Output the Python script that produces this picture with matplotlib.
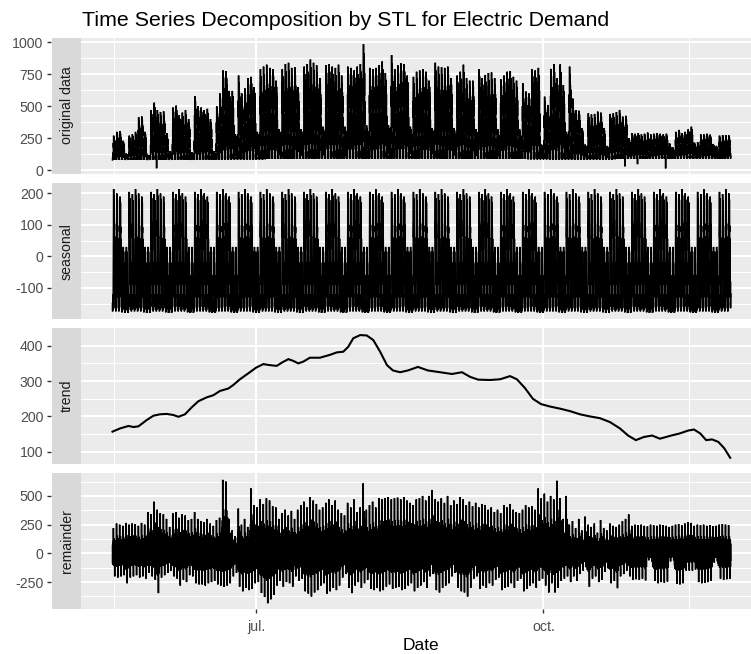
import numpy as np
import pandas as pd
import matplotlib
matplotlib.use("Agg")
import matplotlib.pyplot as plt
import matplotlib.dates as mdates

plt.rcParams['font.family'] = ['Liberation Sans', 'DejaVu Sans']
plt.rcParams['axes.unicode_minus'] = False

# ---------------------------------------------------------------- data
START = "2018-05-16"
N_DAYS = 198

# daily peak demand, one row per week (first row starts Wed 16 May)
daily_peak = [
    270, 300, 305, 230, 130, 270, 280,
    300, 415, 420, 300, 120, 470, 528,
    470, 455, 460, 290, 150, 490, 505,
    430, 450, 470, 400, 140, 580, 500,
    490, 470, 480, 400, 150, 500, 600,
    780, 775, 620, 620, 280, 740, 600,
    640, 720, 730, 650, 300, 790, 810,
    825, 800, 790, 700, 320, 790, 830,
    840, 800, 805, 650, 320, 810, 830,
    865, 840, 820, 720, 340, 820, 830,
    810, 800, 825, 740, 340, 810, 800,
    780, 810, 830, 985, 350, 800, 790,
    800, 820, 850, 760, 350, 900, 790,
    820, 835, 830, 740, 340, 730, 770,
    780, 790, 770, 700, 330, 840, 810,
    805, 800, 810, 720, 330, 740, 770,
    825, 720, 700, 700, 320, 790, 720,
    745, 760, 765, 720, 320, 710, 740,
    770, 775, 730, 700, 320, 680, 615,
    600, 790, 780, 800, 200, 575, 510,
    792, 828, 718, 828, 666, 300, 810,
    560, 470, 465, 330, 200, 445, 435,
    440, 458, 450, 330, 190, 440, 445,
    455, 471, 419, 425, 250, 289, 285,
    290, 280, 285, 294, 280, 285, 290,
    285, 280, 285, 210, 180, 300, 315,
    290, 300, 320, 340, 215, 220, 280,
    280, 285, 278, 205, 190, 270, 275,
    275, 272,
]

# night-time base load for each weekly row
night_load = [80, 80, 80, 80, 82, 85, 85, 88, 88, 90, 90, 90, 90, 90, 90,
              88, 88, 88, 88, 86, 85, 85, 85, 88, 90, 90, 92, 90, 90]

# short outages (day offset, demand at 03:00)
dip_day = [14, 164, 168, 177]
dip_val = [15, 30, 47, 14]

# hourly load shape (0 = base, 1 = daily peak)
load_shape = [0.0, 0.1, 0.02, 0.08, 0.0, 0.3, 0.15, 0.7, 0.5, 1.0, 0.65, 0.85,
              0.6, 0.92, 0.7, 0.8, 0.55, 0.75, 0.3, 0.5, 0.1, 0.25, 0.0, 0.1]

# weekly seasonal component: hourly profile of a working day and of a weekend day
season_workday = [-150, -175, -140, -170, -120, -160, -60, 40, 120, 205, 60, 110,
                  20, 185, 80, 100, -20, 60, -90, -20, -130, -80, -165, -120]
season_weekend = [-160, -178, -150, -175, -140, -170, -110, -60, -100, 15, -60, 30,
                  -40, 15, -80, -20, -110, -60, -140, -100, -168, -130, -180, -150]
# highest seasonal value reached on Monday .. Friday
season_day_peak = [205, 198, 214, 200, 190]

# trend component (day offset, value)
trend_day = [0, 2.4, 5.1, 6.7, 8.3, 11.0, 13.1, 15.2, 17.4, 19.5, 21.1, 23.2, 25.4,
             27.5, 30.2, 32.3, 34.4, 37.1, 38.7, 40.8, 43.5, 46.0, 48.3, 50.4, 52.6,
             54.2, 56.3, 57.9, 59.5, 61.1, 63.2, 66.4, 69.6, 71.8, 73.9, 75.5, 77.1,
             79.3, 81.4, 83.5, 85.7, 87.9, 89.8, 92.1, 94.6, 97.8, 101.0, 104.9,
             108.7, 111.9, 114.5, 117.1, 120.9, 124.1, 127.3, 129.5, 132.1, 134.6,
             137.2, 140.1, 143.3, 146.5, 149.7, 152.9, 156.1, 159.3, 162.5, 165.1,
             167.6, 170.2, 172.8, 175.3, 178.5, 181.7, 184.3, 186.2, 188.2, 190.1,
             192.0, 194.0, 195.9, 197.8]
trend_val = [157, 166, 173, 170, 172, 190, 202, 206, 207, 204, 199, 206, 226,
             243, 254, 260, 272, 279, 289, 305, 322, 338, 348, 345, 343,
             352, 362, 357, 350, 355, 366, 366, 374, 381, 383, 397, 421,
             430, 429, 416, 383, 345, 330, 325, 330, 340, 330, 325,
             320, 325, 312, 304, 303, 305, 314, 305, 280, 250,
             235, 228, 222, 215, 206, 200, 195, 184, 166, 146,
             133, 142, 146, 137, 145, 152, 160, 163, 152, 133,
             135, 128, 110, 83]

# remainder: daily upper and lower extremes
rem_high = [
    220, 260, 250, 240, 265, 250, 260,
    255, 240, 265, 250, 360, 340, 450,
    380, 350, 340, 300, 230, 350, 360,
    310, 340, 330, 290, 300, 360, 300,
    280, 270, 300, 260, 240, 290, 310,
    640, 625, 300, 200, 150, 390, 250,
    300, 230, 566, 420, 400, 470, 430,
    480, 460, 410, 400, 300, 350, 380,
    330, 370, 300, 380, 420, 450, 400,
    490, 460, 430, 380, 400, 440, 470,
    420, 460, 380, 350, 330, 440, 400,
    470, 360, 400, 610, 380, 420, 450,
    400, 480, 470, 480, 490, 470, 480,
    485, 470, 490, 460, 440, 420, 470,
    480, 500, 460, 500, 552, 470, 450,
    480, 440, 500, 420, 460, 430, 490,
    470, 420, 450, 410, 440, 400, 430,
    420, 380, 400, 360, 380, 350, 420,
    400, 430, 380, 360, 350, 380, 420,
    400, 410, 380, 565, 480, 520, 450,
    500, 470, 632, 480, 300, 500, 250,
    280, 220, 300, 200, 320, 250, 230,
    260, 180, 290, 220, 200, 260, 240,
    230, 250, 280, 300, 340, 240, 250,
    245, 250, 240, 235, 250, 245, 240,
    250, 245, 240, 230, 240, 250, 255,
    245, 260, 270, 265, 240, 250, 245,
    250, 240, 245, 235, 240, 250, 255,
    250, 245,
]
rem_low = [
    -200, -210, -200, -190, -260, -210, -200,
    -190, -210, -200, -220, -170, -200, -230,
    -346, -210, -190, -170, -150, -200, -220,
    -280, -230, -250, -190, -200, -260, -270,
    -270, -280, -260, -250, -240, -270, -280,
    -290, -280, -260, -200, -170, -290, -330,
    -300, -320, -310, -260, -250, -345, -380,
    -434, -400, -360, -280, -240, -290, -250,
    -260, -290, -200, -240, -220, -330, -350,
    -375, -340, -320, -280, -260, -350, -330,
    -300, -320, -280, -210, -180, -300, -346,
    -280, -250, -300, -260, -230, -310, -320,
    -300, -330, -320, -290, -270, -310, -300,
    -290, -320, -310, -280, -260, -330, -300,
    -280, -250, -300, -200, -180, -320, -340,
    -300, -280, -260, -200, -170, -300, -330,
    -340, -375, -300, -220, -200, -310, -280,
    -300, -260, -280, -230, -210, -320, -300,
    -290, -260, -300, -240, -220, -330, -310,
    -280, -260, -300, -240, -220, -280, -340,
    -260, -340, -300, -240, -220, -200, -250,
    -200, -240, -180, -150, -120, -290, -220,
    -200, -250, -230, -160, -130, -260, -240,
    -303, -200, -180, -150, -200, -230, -225,
    -230, -220, -235, -60, -70, -240, -260,
    -250, -255, -245, -70, -60, -265, -270,
    -260, -150, -150, -150, -140, -250, -260,
    -255, -250, -240, -80, -70, -220, -230,
    -225, -220,
]
# hourly pattern of the remainder within a day (-1 = low extreme, 1 = high extreme)
rem_shape = [-0.4, 0.35, -0.5, 0.3, -0.45, 0.45, -0.3, 1.0, -0.2, 0.5, -0.55, 0.4,
             -0.35, 0.6, -0.4, 0.3, -0.6, -1.0, 0.2, -0.45, 0.5, -0.3, 0.35, -0.5]

panel_names = ["original data", "seasonal", "trend", "remainder"]
panel_ticks = [[0, 250, 500, 750, 1000], [-100, 0, 100, 200],
               [100, 200, 300, 400], [-250, 0, 250, 500]]
panel_ylim = [(-26, 1036), (-199.5, 232.3), (65.2, 449.2), (-485, 697)]
x_labels = ["jul.", "oct."]
x_breaks = ["2018-07-01", "2018-10-01"]
x_minor = ["2018-05-16 12:00", "2018-11-16 12:00"]

# ---------------------------------------------------------------- series
start = pd.Timestamp(START)
hours = pd.date_range(start, periods=N_DAYS * 24, freq="h")
days = pd.date_range(start, periods=N_DAYS, freq="D")
week_row = np.arange(N_DAYS) // 7

peak = np.array(daily_peak, float)[:, None]
base = np.array(night_load, float)[week_row][:, None]
demand = base + (peak - base) * np.array(load_shape)[None, :]
for d, v in zip(dip_day, dip_val):
    demand[d, 3] = v
demand = demand.ravel()

wd = np.array(season_workday, float)
we = np.array(season_weekend, float)
season_days = []
for dow in days.weekday:
    if dow >= 5:
        season_days.append(we)
    else:
        scale = season_day_peak[dow] / wd.max()
        season_days.append(np.where(wd > 0, wd * scale, wd))
seasonal = np.concatenate(season_days)

rs = np.array(rem_shape)[None, :]
hi = np.array(rem_high, float)[:, None]
lo = np.array(rem_low, float)[:, None]
remainder = np.where(rs >= 0, rs * hi, -rs * lo).ravel()

trend_x = start + pd.to_timedelta(trend_day, unit="D")

series = [(hours, demand), (hours, seasonal), (trend_x, trend_val), (hours, remainder)]

# ---------------------------------------------------------------- layout
W, H = 751, 654
fig = plt.figure(figsize=(W / 100, H / 100), dpi=100)
fig.patch.set_facecolor("white")

panel_top = [37.7, 183.3, 328.3, 473.3]
panel_h = 135.8
x_strip, x_panel, x_right = 52.3, 81.0, 751.0

def box(x0, x1, top, h):
    return [x0 / W, 1 - (top + h) / H, (x1 - x0) / W, h / H]

px_per_day = 3.1228
xlim = (mdates.date2num(start) - (112.5 - x_panel) / px_per_day,
        mdates.date2num(start) + (x_right - 112.5) / px_per_day)

major_x = mdates.date2num(pd.to_datetime(x_breaks))
minor_x = mdates.date2num(pd.to_datetime(x_minor))

for i in range(4):
    ax = fig.add_axes(box(x_panel, x_right, panel_top[i], panel_h))
    sax = fig.add_axes(box(x_strip, x_panel, panel_top[i], panel_h))

    ax.set_facecolor("#EBEBEB")
    for s in ax.spines.values():
        s.set_visible(False)
    ax.set_xlim(xlim)
    ax.set_ylim(panel_ylim[i])
    t = panel_ticks[i]
    ax.set_yticks(t)
    step = t[1] - t[0]
    mnr = [v + step / 2 for v in [t[0] - step] + t]
    mnr = [v for v in mnr if panel_ylim[i][0] < v < panel_ylim[i][1]]
    ax.set_yticks(mnr, minor=True)
    ax.set_xticks(major_x)
    ax.set_xticks(minor_x, minor=True)
    ax.grid(which="major", color="white", lw=1.45)
    ax.grid(which="minor", color="white", lw=0.75)
    ax.set_axisbelow(True)
    ax.tick_params(which="both", left=False, labelleft=False,
                   bottom=False, labelbottom=False)
    if i == 3:
        ax.set_xticklabels(x_labels)
        ax.tick_params(which="major", bottom=True, labelbottom=True,
                       length=3.0, width=1.0, color="#333333",
                       labelcolor="#4D4D4D", labelsize=10.2, pad=4.5)

    x, y = series[i]
    ax.plot(x, y, color="black", lw=1.5 if i == 2 else 1.1,
            solid_joinstyle="miter")

    # facet strip carrying the y axis
    sax.set_facecolor("#D9D9D9")
    for s in sax.spines.values():
        s.set_visible(False)
    sax.spines["left"].set_position(("outward", 1.2))
    sax.set_ylim(panel_ylim[i])
    sax.set_yticks(t)
    sax.set_yticklabels([str(v) for v in t])
    sax.set_xticks([])
    sax.tick_params(axis="y", length=3.0, width=1.0, color="#333333",
                    labelcolor="#4D4D4D", labelsize=10.2, pad=2.4)
    sax.text(0.5, 0.5, panel_names[i], rotation=90, transform=sax.transAxes,
             ha="center", va="center", color="#1A1A1A", fontsize=10.2)

fig.text(81.7 / W, 1 - 26 / H, "Time Series Decomposition by STL for Electric Demand",
         ha="left", va="baseline", fontsize=15.4, color="black")
fig.text(421 / W, 1 - 650.5 / H, "Date", ha="center", va="baseline",
         fontsize=12.5, color="black")

fig.savefig("out.png", dpi=100, facecolor="white")
